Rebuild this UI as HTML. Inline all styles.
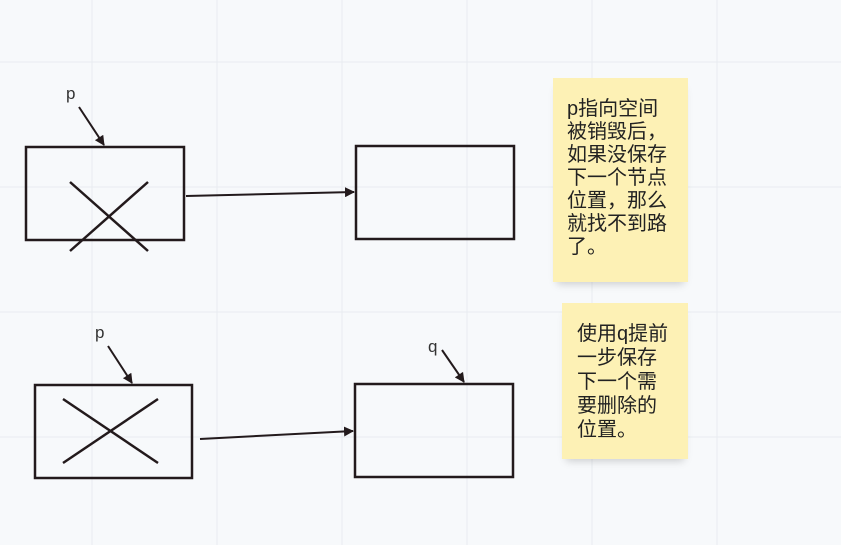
<!DOCTYPE html>
<html><head><style>
html,body{margin:0;padding:0}
body{width:841px;height:545px;overflow:hidden;background:#f7f9fb;position:relative;font-family:"Liberation Sans","Noto Sans CJK SC",sans-serif}
.note{position:absolute;background:#fdf1b5;box-shadow:0 6px 8px -4px rgba(0,0,0,0.18);color:#222;font-size:20px;line-height:23px;white-space:nowrap}
</style></head><body>
<svg width="841" height="545" style="position:absolute;left:0;top:0">
<g stroke="#e8ecf0" stroke-width="1">
<line x1="92" y1="0" x2="92" y2="545"/><line x1="217" y1="0" x2="217" y2="545"/><line x1="342" y1="0" x2="342" y2="545"/><line x1="467" y1="0" x2="467" y2="545"/><line x1="592" y1="0" x2="592" y2="545"/><line x1="717" y1="0" x2="717" y2="545"/>
<line x1="0" y1="62" x2="841" y2="62"/><line x1="0" y1="187" x2="841" y2="187"/><line x1="0" y1="312" x2="841" y2="312"/><line x1="0" y1="437" x2="841" y2="437"/>
</g>
<defs><marker id="a" markerWidth="10" markerHeight="10" refX="9" refY="5" orient="auto" markerUnits="userSpaceOnUse"><path d="M0,0 L10,5 L0,10 Z" fill="#231a1c"/></marker></defs>
<g stroke="#231a1c" stroke-width="2.5" fill="none">
<rect x="26" y="147" width="158" height="93"/>
<rect x="356" y="146" width="158" height="93"/>
<rect x="35" y="385" width="157" height="93"/>
<rect x="355" y="384" width="158" height="93"/>
<line x1="70" y1="182" x2="148" y2="251"/><line x1="148" y1="182" x2="70" y2="251"/>
<line x1="63" y1="399" x2="158" y2="463"/><line x1="158" y1="399" x2="63" y2="463"/>
</g>
<g stroke="#231a1c" stroke-width="2" fill="none">
<line x1="186" y1="196" x2="354" y2="192" marker-end="url(#a)"/>
<line x1="200" y1="439" x2="353" y2="431" marker-end="url(#a)"/>
<line x1="79" y1="107" x2="104" y2="145" marker-end="url(#a)"/>
<line x1="108" y1="346" x2="132" y2="383" marker-end="url(#a)"/>
<line x1="442" y1="350" x2="464" y2="382" marker-end="url(#a)"/>
</g>
<g fill="#333" font-size="17" font-family="Liberation Sans, sans-serif">
<text x="66" y="99">p</text><text x="95" y="338">p</text><text x="428" y="352">q</text>
</g>
</svg>
<div class="note" style="left:553px;top:78px;width:121px;height:184px;padding:20px 0 0 14px">p指向空间<br>被销毁后，<br>如果没保存<br>下一个节点<br>位置，那么<br>就找不到路<br>了。</div>
<div class="note" style="left:562px;top:303px;width:111px;height:137px;padding:19px 0 0 15px;line-height:24px">使用q提前<br>一步保存<br>下一个需<br>要删除的<br>位置。</div>
</body></html>
